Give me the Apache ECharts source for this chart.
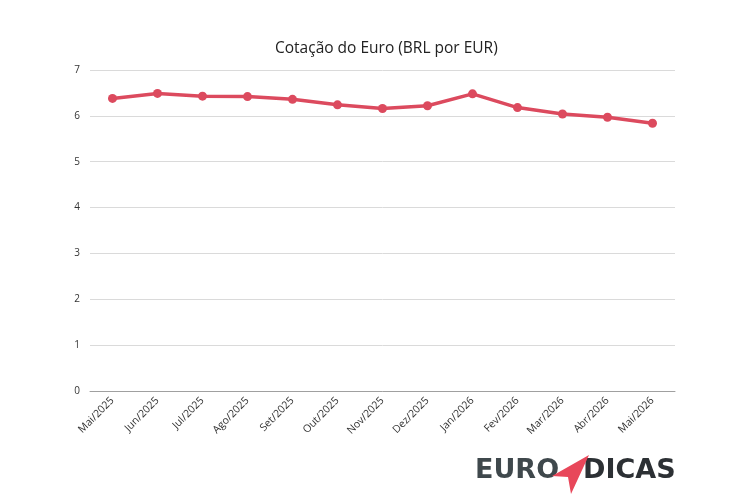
<!DOCTYPE html>
<html>
<head>
<meta charset="utf-8">
<script src="https://cdn.jsdelivr.net/npm/echarts@6/dist/echarts.min.js"></script>
<style>
  html, body { margin: 0; padding: 0; background: #fff; }
  #chart { width: 750px; height: 500px; }
</style>
</head>
<body>
<div id="chart"></div>
<script>
const months = ['Mai/2025', 'Jun/2025', 'Jul/2025', 'Ago/2025', 'Set/2025', 'Out/2025', 'Nov/2025',
    'Dez/2025', 'Jan/2026', 'Fev/2026', 'Mar/2026', 'Abr/2026', 'Mai/2026'];
const eurBrl = [6.38, 6.49, 6.43, 6.42, 6.36, 6.24, 6.16, 6.22, 6.48, 6.18, 6.04, 5.97, 5.84];

const LINE_COLOR = '#dc4a5e';
const FONT = '"Open Sans", sans-serif';

const chart = echarts.init(document.getElementById('chart'));

chart.setOption({
    animation: false,
    title: {
        text: 'Cotação do Euro (BRL por EUR)',
        left: 270,
        top: 36,
        textStyle: { fontFamily: FONT, fontSize: 15.5, fontWeight: 'normal', color: '#222' }
    },
    grid: { left: 90, right: 75, top: 70, bottom: 109 },
    xAxis: {
        type: 'category',
        data: months,
        boundaryGap: true,
        axisLine: { lineStyle: { color: '#a0a0a0' } },
        axisTick: { show: false },
        axisLabel: { rotate: 45, fontFamily: FONT, fontSize: 10.5, color: '#333', margin: 8 }
    },
    yAxis: {
        type: 'value',
        min: 0,
        max: 7,
        interval: 1,
        axisLine: { show: false },
        axisTick: { show: false },
        axisLabel: { fontFamily: FONT, fontSize: 10, color: '#333', margin: 10 },
        splitLine: { lineStyle: { color: '#dadada' } }
    },
    series: [{
        type: 'line',
        data: eurBrl,
        symbol: 'circle',
        symbolSize: 9,
        lineStyle: { color: LINE_COLOR, width: 3.5 },
        itemStyle: { color: LINE_COLOR }
    }],
    graphic: [
        {
            type: 'text',
            left: 475,
            top: 457,
            style: { text: 'EURO', font: 'bold 27px "DejaVu Sans", sans-serif', fill: '#3f484c' }
        },
        {
            type: 'text',
            left: 583,
            top: 457,
            style: { text: 'DICAS', font: 'bold 27px "DejaVu Sans", sans-serif', fill: '#2c3034' }
        },
        {
            type: 'polygon',
            shape: { points: [[589, 455], [552, 476], [568, 477], [571, 494]] },
            style: { fill: '#e8475a' }
        }
    ]
});
</script>
</body>
</html>
